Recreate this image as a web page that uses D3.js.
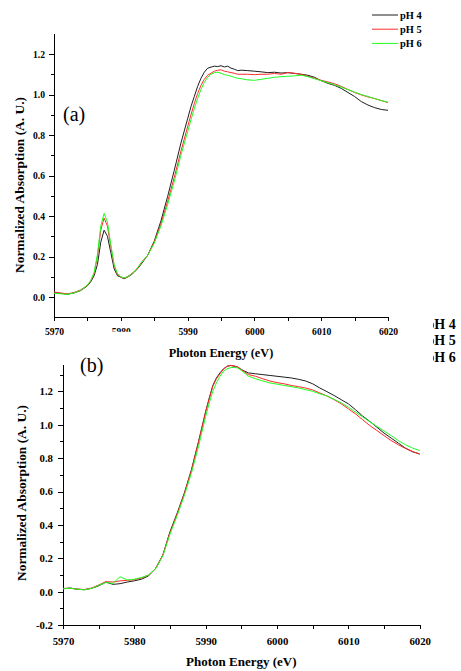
<!DOCTYPE html>
<html>
<head>
  <meta charset="utf-8">
  <script src="https://cdn.jsdelivr.net/npm/d3@7"></script>
  <style>
    body { margin: 0; background: #fff; }
    svg { display: block; }
    .axis path, .axis line { stroke: #000; stroke-width: 1; shape-rendering: crispEdges; }
    .curve { fill: none; stroke-width: 1; }
  </style>
</head>
<body>
  <svg width="461" height="671" font-family="'Liberation Serif', 'DejaVu Serif', serif"></svg>
  <script>
    // ---- data ----
    var seriesNames = ["pH 4", "pH 5", "pH 6"];
    var seriesColors = ["#1e1e1e", "#ff2a2a", "#1fff1f"];

    // panel (a)
    var energyA = [5970, 5971, 5972, 5973, 5974, 5975, 5975.5, 5976, 5976.5, 5977, 5977.5, 5978, 5978.5, 5979, 5979.5,
      5980, 5980.5, 5981, 5981.5, 5982, 5982.5, 5983, 5984, 5985, 5986, 5987, 5988, 5989, 5990, 5990.5, 5991, 5991.5,
      5992, 5992.5, 5993, 5993.5, 5994, 5994.5, 5995, 5995.5, 5996, 5996.5, 5997, 5997.5, 5998, 5999, 6000, 6001,
      6002, 6003, 6004, 6005, 6006, 6007, 6008, 6009, 6010, 6011, 6012, 6013, 6014, 6015, 6016, 6017, 6018, 6019, 6020];
    var a_pH4 = [0.020, 0.018, 0.014, 0.020, 0.032, 0.055, 0.075, 0.105, 0.160, 0.270, 0.330, 0.300, 0.220, 0.140, 0.105,
      0.098, 0.090, 0.098, 0.108, 0.122, 0.140, 0.160, 0.205, 0.275, 0.375, 0.495, 0.625, 0.760, 0.880, 0.940, 0.990, 1.040,
      1.080, 1.110, 1.130, 1.135, 1.140, 1.138, 1.142, 1.136, 1.140, 1.130, 1.125, 1.118, 1.120, 1.118, 1.115, 1.112,
      1.108, 1.110, 1.106, 1.108, 1.104, 1.100, 1.095, 1.085, 1.068, 1.055, 1.045, 1.030, 1.010, 0.990, 0.965, 0.948, 0.935, 0.926, 0.922];
    var a_pH5 = [0.025, 0.020, 0.015, 0.022, 0.035, 0.058, 0.080, 0.115, 0.200, 0.330, 0.390, 0.350, 0.250, 0.155, 0.110,
      0.098, 0.093, 0.100, 0.112, 0.125, 0.140, 0.168, 0.205, 0.270, 0.360, 0.470, 0.590, 0.720, 0.840, 0.900, 0.955, 1.005,
      1.045, 1.075, 1.095, 1.105, 1.115, 1.120, 1.122, 1.115, 1.112, 1.108, 1.105, 1.100, 1.100, 1.100, 1.098, 1.100,
      1.100, 1.104, 1.100, 1.108, 1.105, 1.100, 1.090, 1.080, 1.070, 1.062, 1.053, 1.040, 1.025, 1.010, 0.998, 0.988, 0.980, 0.970, 0.960];
    var a_pH6 = [0.018, 0.016, 0.013, 0.020, 0.033, 0.058, 0.082, 0.120, 0.210, 0.350, 0.413, 0.370, 0.260, 0.160, 0.115,
      0.100, 0.094, 0.100, 0.110, 0.125, 0.145, 0.165, 0.205, 0.265, 0.350, 0.455, 0.570, 0.700, 0.815, 0.875, 0.930, 0.980,
      1.025, 1.060, 1.085, 1.100, 1.108, 1.110, 1.105, 1.098, 1.095, 1.090, 1.085, 1.080, 1.078, 1.072, 1.070, 1.075,
      1.080, 1.085, 1.088, 1.090, 1.092, 1.095, 1.088, 1.078, 1.068, 1.058, 1.048, 1.036, 1.024, 1.012, 1.000, 0.990, 0.980, 0.970, 0.962];

    // panel (b)
    var energyB = [5970, 5971, 5972, 5973, 5974, 5975, 5976, 5977, 5978, 5979, 5980, 5981, 5982, 5983, 5984, 5985, 5986,
      5987, 5988, 5989, 5990, 5990.5, 5991, 5991.5, 5992, 5992.5, 5993, 5993.5, 5994, 5994.5, 5995, 5996, 5997, 5998,
      5999, 6000, 6001, 6002, 6003, 6004, 6005, 6006, 6007, 6008, 6009, 6010, 6011, 6012, 6013, 6014, 6015, 6016,
      6017, 6018, 6019, 6020];
    var b_pH4 = [0.018, 0.022, 0.015, 0.012, 0.020, 0.035, 0.058, 0.044, 0.048, 0.058, 0.065, 0.075, 0.095, 0.140, 0.220, 0.360, 0.470,
      0.590, 0.730, 0.900, 1.080, 1.160, 1.235, 1.280, 1.310, 1.335, 1.350, 1.355, 1.350, 1.345, 1.330, 1.310, 1.305, 1.300,
      1.295, 1.290, 1.285, 1.280, 1.272, 1.262, 1.245, 1.220, 1.198, 1.175, 1.150, 1.125, 1.090, 1.052, 1.020, 0.985, 0.950, 0.920,
      0.890, 0.860, 0.838, 0.825];
    var b_pH5 = [0.020, 0.020, 0.016, 0.013, 0.022, 0.040, 0.060, 0.058, 0.065, 0.068, 0.072, 0.082, 0.100, 0.140, 0.220, 0.355, 0.465,
      0.585, 0.725, 0.895, 1.075, 1.155, 1.230, 1.275, 1.305, 1.332, 1.350, 1.355, 1.352, 1.345, 1.330, 1.300, 1.290, 1.275,
      1.262, 1.252, 1.245, 1.235, 1.228, 1.220, 1.208, 1.190, 1.172, 1.150, 1.125, 1.095, 1.065, 1.030, 0.995, 0.965, 0.935, 0.905,
      0.880, 0.858, 0.840, 0.823];
    var b_pH6 = [0.017, 0.021, 0.015, 0.011, 0.020, 0.038, 0.055, 0.050, 0.090, 0.070, 0.075, 0.085, 0.100, 0.138, 0.215, 0.345, 0.455,
      0.575, 0.710, 0.870, 1.050, 1.130, 1.200, 1.250, 1.290, 1.320, 1.335, 1.342, 1.343, 1.340, 1.325, 1.290, 1.275, 1.262,
      1.250, 1.243, 1.235, 1.228, 1.220, 1.210, 1.200, 1.185, 1.172, 1.152, 1.130, 1.105, 1.075, 1.047, 1.018, 0.990, 0.962, 0.935,
      0.905, 0.880, 0.860, 0.845];

    var xMajor = [5970, 5980, 5990, 6000, 6010, 6020];
    var xMinor = [5975, 5985, 5995, 6005, 6015];
    var yMajorA = [0.0, 0.2, 0.4, 0.6, 0.8, 1.0, 1.2];
    var yMinorA = [0.1, 0.3, 0.5, 0.7, 0.9, 1.1];
    var yMajorB = [-0.2, 0.0, 0.2, 0.4, 0.6, 0.8, 1.0, 1.2];
    var yMinorB = [-0.1, 0.1, 0.3, 0.5, 0.7, 0.9, 1.1, 1.3];

    var serif = "'Liberation Serif', 'DejaVu Serif', serif";
    var svg = d3.select("svg");

    function drawPanel(p) {
      var x = d3.scaleLinear().domain([5970, 6020]).range([p.left, p.right]);
      var y = d3.scaleLinear().domain(p.yDomain).range([p.bottom, p.top]);
      var g = svg.append("g");

      // minor ticks first
      g.append("g").attr("class", "axis")
        .attr("transform", "translate(0," + p.bottom + ")")
        .call(d3.axisBottom(x).tickValues(xMinor).tickSize(4).tickSizeOuter(0).tickFormat(""))
        .select(".domain").remove();
      g.append("g").attr("class", "axis")
        .attr("transform", "translate(" + p.left + ",0)")
        .call(d3.axisLeft(y).tickValues(p.yMinor).tickSize(3).tickSizeOuter(0).tickFormat(""))
        .select(".domain").remove();

      var xa = g.append("g").attr("class", "axis")
        .attr("transform", "translate(0," + p.bottom + ")")
        .call(d3.axisBottom(x).tickValues(xMajor).tickSize(4).tickSizeOuter(0).tickPadding(p.xPad).tickFormat(d3.format("d")));
      xa.attr("font-family", serif).attr("font-weight", "bold").attr("font-size", p.tickFont);

      var ya = g.append("g").attr("class", "axis")
        .attr("transform", "translate(" + p.left + ",0)")
        .call(d3.axisLeft(y).tickValues(p.yMajor).tickSize(5).tickSizeOuter(0).tickPadding(p.yPad)
          .tickFormat(function(d) { return d3.format(".1f")(d).replace("\u2212", "-"); }));
      ya.attr("font-family", serif).attr("font-weight", "bold").attr("font-size", p.tickFont);

      var line = d3.line()
        .x(function(d) { return x(d[0]); })
        .y(function(d) { return y(d[1]); });

      p.series.forEach(function(vals, i) {
        g.append("path")
          .attr("class", "curve")
          .attr("stroke", seriesColors[i])
          .attr("d", line(p.energy.map(function(e, k) { return [e, vals[k]]; })));
      });

      g.append("text")
        .attr("x", (p.left + p.right) / 2)
        .attr("y", p.bottom + p.xLabelDy)
        .attr("text-anchor", "middle")
        .attr("font-weight", "bold")
        .attr("font-size", p.xLabelFont)
        .text("Photon Energy (eV)");

      g.append("text")
        .attr("transform", "translate(" + p.yLabelX + "," + p.yLabelY + ") rotate(-90)")
        .attr("text-anchor", "middle")
        .attr("font-weight", "bold")
        .attr("font-size", 13.4)
        .text("Normalized Absorption (A. U.)");

      g.append("text")
        .attr("x", p.tagX).attr("y", p.tagY)
        .attr("font-size", 20)
        .text(p.tag);

      return { g: g, xa: xa };
    }

    var pa = drawPanel({
      left: 54, right: 388, top: 33.75, bottom: 317.25, yDomain: [-0.1, 1.3],
      yMajor: yMajorA, yMinor: yMinorA, tickFont: 9.6, xPad: 7, yPad: 4,
      energy: energyA, series: [a_pH4, a_pH5, a_pH6],
      xLabelFont: 12.3, xLabelDy: 40,
      yLabelX: 24, yLabelY: 185, tag: "(a)", tagX: 63, tagY: 121
    });

    // the 5980 label in panel (a) is half hidden in the picture
    pa.xa.selectAll(".tick").filter(function(d) { return d === 5980; })
      .append("rect").attr("x", -12).attr("y", 14.5).attr("width", 24).attr("height", 6).attr("fill", "#fff");

    drawPanel({
      left: 63, right: 419.7, top: 364.6, bottom: 625.1, yDomain: [-0.2, 1.36],
      yMajor: yMajorB, yMinor: yMinorB, tickFont: 10.8, xPad: 8, yPad: 5,
      energy: energyB, series: [b_pH4, b_pH5, b_pH6],
      xLabelFont: 13, xLabelDy: 41,
      yLabelX: 26, yLabelY: 493, tag: "(b)", tagX: 80, tagY: 372
    });

    // legend of panel (a)
    var legA = svg.append("g").attr("transform", "translate(372,15)");
    seriesNames.forEach(function(name, i) {
      legA.append("line")
        .attr("x1", 0).attr("x2", 26)
        .attr("y1", i * 14.2).attr("y2", i * 14.2)
        .attr("stroke", seriesColors[i]).attr("stroke-width", 1);
      legA.append("text")
        .attr("x", 28).attr("y", i * 14.2 + 3.5)
        .attr("font-weight", "bold").attr("font-size", 10.4)
        .text(name);
    });

    // legend of panel (b), cut by the right edge of panel (a)
    svg.append("clipPath").attr("id", "legclip")
      .append("rect").attr("x", 433).attr("y", 300).attr("width", 40).attr("height", 80);
    var legB = svg.append("g").attr("clip-path", "url(#legclip)");
    seriesNames.forEach(function(name, i) {
      legB.append("text")
        .attr("x", 426.5).attr("y", 328.5 + i * 16.7)
        .attr("font-weight", "bold").attr("font-size", 14)
        .text(name);
    });
  </script>
</body>
</html>
